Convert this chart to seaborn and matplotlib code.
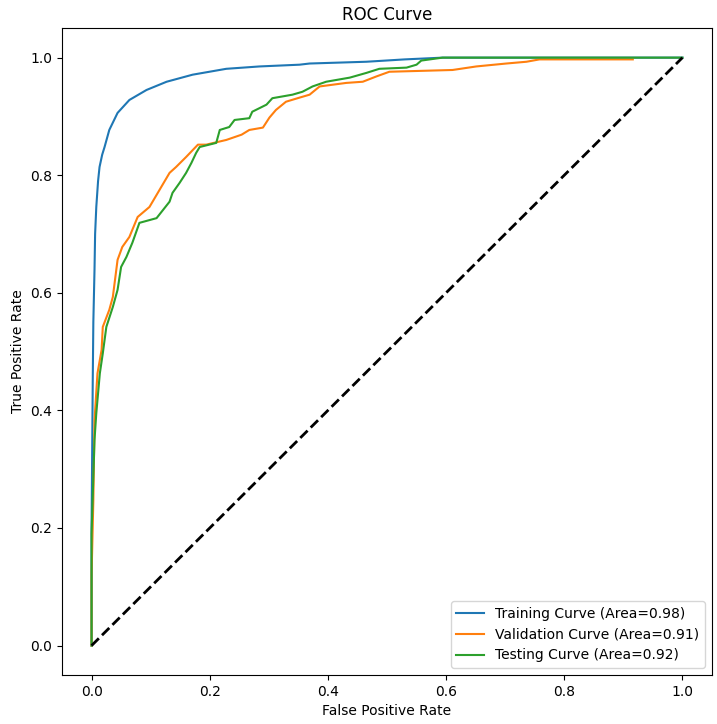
import pandas as pd
import matplotlib.pyplot as plt
import seaborn as sns

train_fpr = [0.0, 0.0, 0.002, 0.003, 0.005, 0.006, 0.008, 0.011, 0.0135, 0.018, 0.022, 0.03, 0.044,
             0.064, 0.093, 0.127, 0.171, 0.228, 0.284, 0.352, 0.369, 0.465, 0.53, 0.594, 1.0]
train_tpr = [0.0, 0.2, 0.45, 0.55, 0.64, 0.70, 0.746, 0.79, 0.814, 0.835, 0.848, 0.877, 0.906,
             0.928, 0.945, 0.959, 0.971, 0.981, 0.985, 0.988, 0.990, 0.993, 0.997, 1.0, 1.0]

val_fpr = [0.0, 0.0, 0.003, 0.005, 0.01, 0.017, 0.019, 0.03, 0.036, 0.044, 0.052, 0.064, 0.078,
           0.098, 0.115, 0.132, 0.143, 0.16, 0.18, 0.194, 0.228, 0.254, 0.267, 0.29, 0.301,
           0.312, 0.329, 0.352, 0.369, 0.386, 0.431, 0.459, 0.482, 0.504, 0.611, 0.651, 0.702,
           0.736, 0.758, 0.916]
val_tpr = [0.0, 0.12, 0.247, 0.383, 0.463, 0.503, 0.542, 0.571, 0.593, 0.656, 0.678, 0.695, 0.729,
           0.746, 0.775, 0.804, 0.814, 0.831, 0.852, 0.852, 0.860, 0.869, 0.877, 0.881, 0.898,
           0.911, 0.925, 0.932, 0.937, 0.951, 0.957, 0.959, 0.968, 0.976, 0.979, 0.985, 0.990,
           0.993, 0.997, 0.997]

test_fpr = [0.0, 0.0, 0.005, 0.008, 0.014, 0.019, 0.025, 0.036, 0.044, 0.05, 0.059, 0.069, 0.081,
            0.11, 0.121, 0.132, 0.137, 0.149, 0.16, 0.169, 0.177, 0.183, 0.211, 0.217, 0.233,
            0.242, 0.267, 0.272, 0.296, 0.306, 0.34, 0.357, 0.374, 0.397, 0.437, 0.465, 0.487,
            0.533, 0.55, 0.558, 0.594, 1.0]
test_tpr = [0.0, 0.19, 0.35, 0.395, 0.463, 0.497, 0.542, 0.576, 0.605, 0.644, 0.661, 0.685, 0.719,
            0.727, 0.741, 0.755, 0.770, 0.787, 0.804, 0.821, 0.838, 0.848, 0.855, 0.877, 0.882,
            0.894, 0.897, 0.908, 0.920, 0.931, 0.937, 0.942, 0.951, 0.959, 0.966, 0.974, 0.981,
            0.983, 0.988, 0.995, 1.0, 1.0]

curves = [
    ('Training Curve (Area=0.98)', train_fpr, train_tpr, '#1f77b4'),
    ('Validation Curve (Area=0.91)', val_fpr, val_tpr, '#ff7f0e'),
    ('Testing Curve (Area=0.92)', test_fpr, test_tpr, '#2ca02c'),
]

fig, ax = plt.subplots(figsize=(7.17, 7.24), dpi=100)
fig.subplots_adjust(left=0.0865, right=0.993, top=0.961, bottom=0.0677)

for label, fpr, tpr, color in curves:
    df = pd.DataFrame({'fpr': fpr, 'tpr': tpr})
    sns.lineplot(data=df, x='fpr', y='tpr', sort=False, estimator=None,
                 color=color, linewidth=1.5, label=label, ax=ax)

ax.plot([0, 1], [0, 1], 'k--', linewidth=2)

ax.set_title('ROC Curve')
ax.set_xlabel('False Positive Rate')
ax.set_ylabel('True Positive Rate')
ax.legend(loc='lower right')

fig.savefig('out.png')
